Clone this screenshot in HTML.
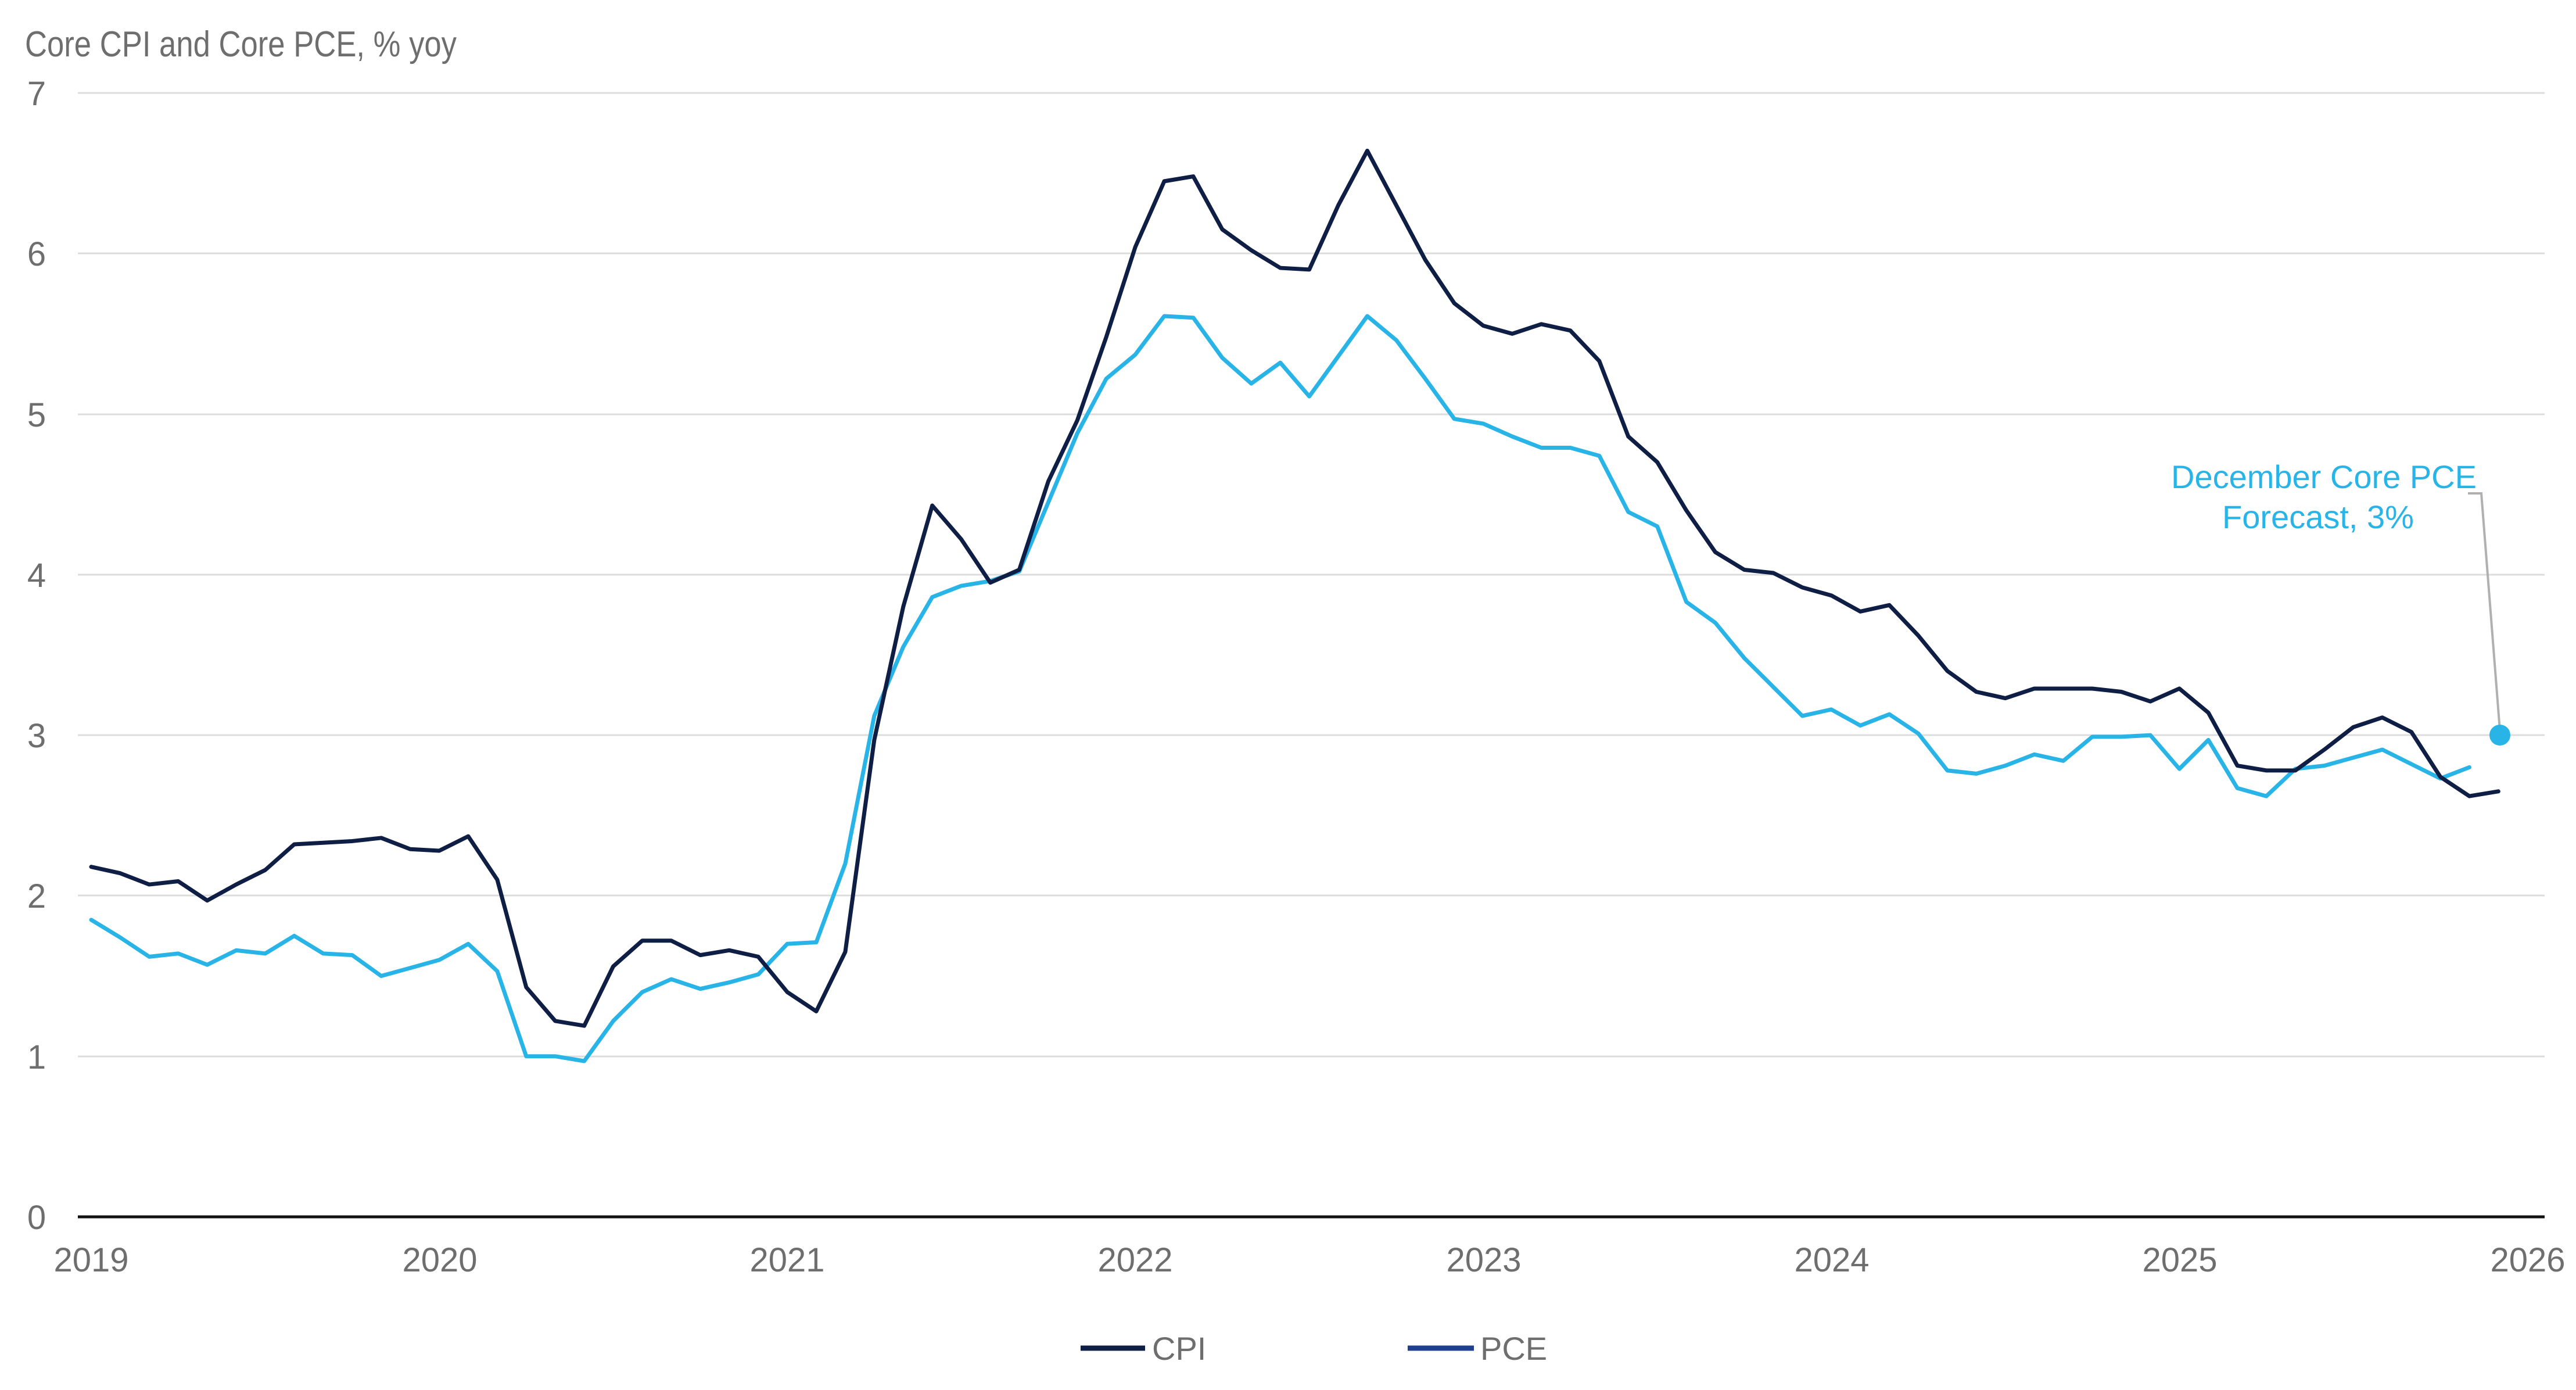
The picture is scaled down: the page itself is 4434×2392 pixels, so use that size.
<!DOCTYPE html>
<html><head><meta charset="utf-8"><style>
html,body{margin:0;padding:0;background:#fff;}
svg{display:block;}
text{font-family:"Liberation Sans",sans-serif;}
</style></head><body>
<svg width="4434" height="2392" viewBox="0 0 4434 2392" xmlns="http://www.w3.org/2000/svg">
<text x="43" y="97" font-size="62" fill="#6e6e6e" textLength="743" lengthAdjust="spacingAndGlyphs">Core CPI and Core PCE, % yoy</text>
<g stroke="#dcdcdc" stroke-width="3">
<line x1="134" x2="4380" y1="160" y2="160"/>
<line x1="134" x2="4380" y1="436" y2="436"/>
<line x1="134" x2="4380" y1="713" y2="713"/>
<line x1="134" x2="4380" y1="989" y2="989"/>
<line x1="134" x2="4380" y1="1265" y2="1265"/>
<line x1="134" x2="4380" y1="1541" y2="1541"/>
<line x1="134" x2="4380" y1="1818" y2="1818"/>
</g>
<line x1="134" x2="4380" y1="2094" y2="2094" stroke="#111" stroke-width="5"/>
<g font-size="58" fill="#6e6e6e" text-anchor="middle">
<text x="63" y="181">7</text><text x="63" y="457">6</text><text x="63" y="734">5</text>
<text x="63" y="1010">4</text><text x="63" y="1286">3</text><text x="63" y="1562">2</text>
<text x="63" y="1839">1</text><text x="63" y="2115">0</text>
<text x="157" y="2188">2019</text><text x="757" y="2188">2020</text><text x="1355" y="2188">2021</text>
<text x="1954" y="2188">2022</text><text x="2554" y="2188">2023</text><text x="3153" y="2188">2024</text>
<text x="3752" y="2188">2025</text><text x="4351" y="2188">2026</text>
</g>
<g transform="translate(157,2094) scale(49.92,-276.3)" fill="none" stroke-linejoin="round" stroke-linecap="round">
<polyline vector-effect="non-scaling-stroke" stroke="#29b4e8" stroke-width="7" points="0,1.85 1,1.74 2,1.62 3,1.64 4,1.57 5,1.66 6,1.64 7,1.75 8,1.64 9,1.63 10,1.50 11,1.55 12,1.60 13,1.70 14,1.53 15,1.00 16,1.00 17,0.97 18,1.22 19,1.40 20,1.48 21,1.42 22,1.46 23,1.51 24,1.70 25,1.71 26,2.20 27,3.12 28,3.55 29,3.86 30,3.93 31,3.96 32,4.02 33,4.45 34,4.88 35,5.22 36,5.37 37,5.61 38,5.60 39,5.35 40,5.19 41,5.32 42,5.11 43,5.36 44,5.61 45,5.46 46,5.22 47,4.97 48,4.94 49,4.86 50,4.79 51,4.79 52,4.74 53,4.39 54,4.30 55,3.83 56,3.70 57,3.48 58,3.30 59,3.12 60,3.16 61,3.06 62,3.13 63,3.01 64,2.78 65,2.76 66,2.81 67,2.88 68,2.84 69,2.99 70,2.99 71,3.00 72,2.79 73,2.97 74,2.67 75,2.62 76,2.79 77,2.81 78,2.86 79,2.91 80,2.82 81,2.73 82,2.80"/>
<polyline vector-effect="non-scaling-stroke" stroke="#0f1e45" stroke-width="7" points="0,2.18 1,2.14 2,2.07 3,2.09 4,1.97 5,2.07 6,2.16 7,2.32 8,2.33 9,2.34 10,2.36 11,2.29 12,2.28 13,2.37 14,2.10 15,1.43 16,1.22 17,1.19 18,1.56 19,1.72 20,1.72 21,1.63 22,1.66 23,1.62 24,1.40 25,1.28 26,1.65 27,2.97 28,3.80 29,4.43 30,4.22 31,3.95 32,4.03 33,4.58 34,4.96 35,5.48 36,6.04 37,6.45 38,6.48 39,6.15 40,6.02 41,5.91 42,5.90 43,6.30 44,6.64 45,6.30 46,5.96 47,5.69 48,5.55 49,5.50 50,5.56 51,5.52 52,5.33 53,4.86 54,4.70 55,4.40 56,4.14 57,4.03 58,4.01 59,3.92 60,3.87 61,3.77 62,3.81 63,3.62 64,3.40 65,3.27 66,3.23 67,3.29 68,3.29 69,3.29 70,3.27 71,3.21 72,3.29 73,3.14 74,2.81 75,2.78 76,2.78 77,2.91 78,3.05 79,3.11 80,3.02 81,2.74 82,2.62 83,2.65"/>
</g>
<polyline points="4248,849 4271,849 4303,1257" fill="none" stroke="#b0b0b0" stroke-width="4"/>
<circle cx="4303" cy="1265" r="18" fill="#29b4e8"/>
<g font-size="56" fill="#29b4e8" text-anchor="middle">
<text x="4000" y="840">December Core PCE</text>
<text x="3990" y="909">Forecast, 3%</text>
</g>
<line x1="1860" x2="1971" y1="2320" y2="2320" stroke="#0f1e45" stroke-width="9"/>
<text x="1983" y="2340" font-size="56" fill="#6e6e6e">CPI</text>
<line x1="2423" x2="2537" y1="2320" y2="2320" stroke="#1f3f8f" stroke-width="9"/>
<text x="2548" y="2340" font-size="56" fill="#6e6e6e">PCE</text>
</svg>
</body></html>
